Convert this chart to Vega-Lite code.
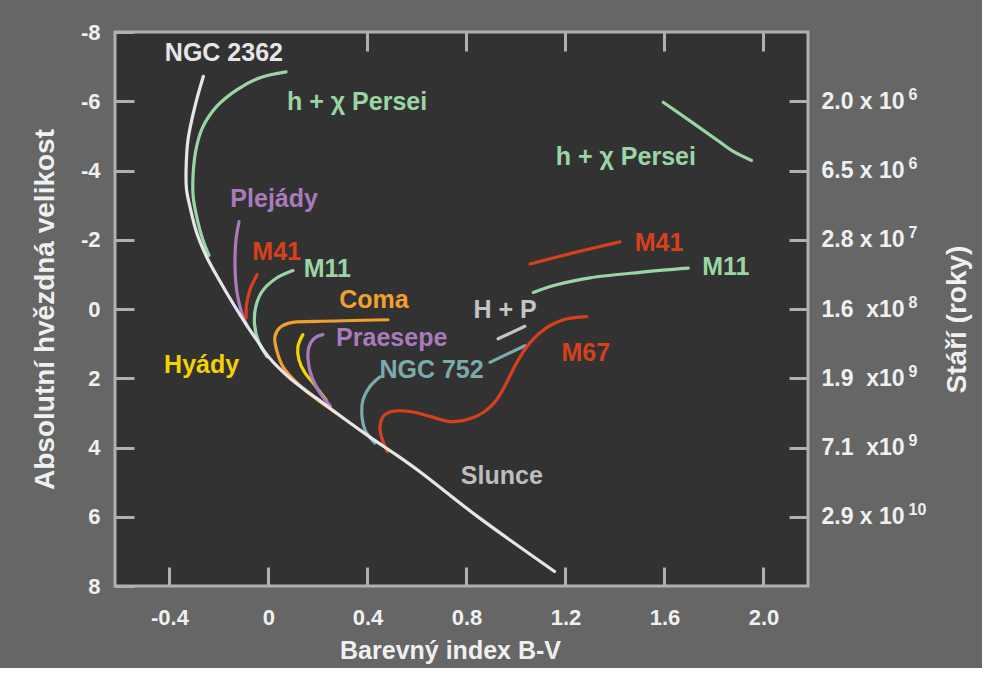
{
  "$schema": "https://vega.github.io/schema/vega-lite/v6.json",
  "width": 693,
  "height": 554,
  "autosize": {"type": "none"},
  "padding": {"left": 115, "top": 32, "right": 174, "bottom": 82},
  "background": "#666666",
  "config": {
    "view": {"fill": "#323232", "stroke": "#b0b0b0", "strokeWidth": 3},
    "font": "Liberation Sans",
    "axis": {
      "domain": false,
      "grid": false,
      "offset": 0,
      "tickColor": "#b0b0b0",
      "tickWidth": 3,
      "tickSize": -19,
      "labelColor": "#f0f0f0",
      "labelFont": "Liberation Sans",
      "labelFontWeight": "bold",
      "labelFontSize": 22,
      "labelOverlap": false,
      "labelFlush": false,
      "titleColor": "#f0f0f0",
      "titleFont": "Liberation Sans",
      "titleFontWeight": "bold",
      "titleFontSize": 28
    }
  },
  "datasets": {
    "curves": [
      {"s": "NGC 2362", "c": "NGC 2362", "i": 1, "x": -0.263, "y": -6.72},
      {"s": "NGC 2362", "c": "NGC 2362", "i": 2, "x": -0.297, "y": -5.85},
      {"s": "NGC 2362", "c": "NGC 2362", "i": 3, "x": -0.325, "y": -4.89},
      {"s": "NGC 2362", "c": "NGC 2362", "i": 4, "x": -0.333, "y": -3.94},
      {"s": "NGC 2362", "c": "NGC 2362", "i": 5, "x": -0.331, "y": -3.45},
      {"s": "NGC 2362", "c": "NGC 2362", "i": 6, "x": -0.317, "y": -2.95},
      {"s": "NGC 2362", "c": "NGC 2362", "i": 7, "x": -0.29, "y": -2.2},
      {"s": "NGC 2362", "c": "NGC 2362", "i": 8, "x": -0.25, "y": -1.51},
      {"s": "NGC 2362", "c": "NGC 2362", "i": 9, "x": -0.2, "y": -0.85},
      {"s": "NGC 2362", "c": "NGC 2362", "i": 10, "x": -0.145, "y": -0.18},
      {"s": "NGC 2362", "c": "NGC 2362", "i": 11, "x": -0.085, "y": 0.5},
      {"s": "NGC 2362", "c": "NGC 2362", "i": 12, "x": -0.035, "y": 1.02},
      {"s": "ZAMS", "c": "ZAMS", "i": 1, "x": -0.035, "y": 1.02},
      {"s": "ZAMS", "c": "ZAMS", "i": 2, "x": 0.0, "y": 1.38},
      {"s": "ZAMS", "c": "ZAMS", "i": 3, "x": 0.087, "y": 2.0},
      {"s": "ZAMS", "c": "ZAMS", "i": 4, "x": 0.195, "y": 2.58},
      {"s": "ZAMS", "c": "ZAMS", "i": 5, "x": 0.302, "y": 3.15},
      {"s": "ZAMS", "c": "ZAMS", "i": 6, "x": 0.41, "y": 3.7},
      {"s": "ZAMS", "c": "ZAMS", "i": 7, "x": 0.518, "y": 4.22},
      {"s": "ZAMS", "c": "ZAMS", "i": 8, "x": 0.612, "y": 4.7},
      {"s": "ZAMS", "c": "ZAMS", "i": 9, "x": 0.844, "y": 5.99},
      {"s": "ZAMS", "c": "ZAMS", "i": 10, "x": 1.156, "y": 7.58},
      {"s": "hxP1", "c": "h + χ Persei", "i": 1, "x": 0.071, "y": -6.85},
      {"s": "hxP1", "c": "h + χ Persei", "i": 2, "x": -0.034, "y": -6.68},
      {"s": "hxP1", "c": "h + χ Persei", "i": 3, "x": -0.128, "y": -6.33},
      {"s": "hxP1", "c": "h + χ Persei", "i": 4, "x": -0.209, "y": -5.85},
      {"s": "hxP1", "c": "h + χ Persei", "i": 5, "x": -0.265, "y": -5.26},
      {"s": "hxP1", "c": "h + χ Persei", "i": 6, "x": -0.29, "y": -4.7},
      {"s": "hxP1", "c": "h + χ Persei", "i": 7, "x": -0.304, "y": -3.94},
      {"s": "hxP1", "c": "h + χ Persei", "i": 8, "x": -0.304, "y": -3.24},
      {"s": "hxP1", "c": "h + χ Persei", "i": 9, "x": -0.29, "y": -2.67},
      {"s": "hxP1", "c": "h + χ Persei", "i": 10, "x": -0.265, "y": -2.0},
      {"s": "hxP1", "c": "h + χ Persei", "i": 11, "x": -0.24, "y": -1.55},
      {"s": "hxP2", "c": "h + χ Persei", "i": 1, "x": 1.595, "y": -5.97},
      {"s": "hxP2", "c": "h + χ Persei", "i": 2, "x": 1.716, "y": -5.37},
      {"s": "hxP2", "c": "h + χ Persei", "i": 3, "x": 1.811, "y": -4.89},
      {"s": "hxP2", "c": "h + χ Persei", "i": 4, "x": 1.878, "y": -4.55},
      {"s": "hxP2", "c": "h + χ Persei", "i": 5, "x": 1.952, "y": -4.29},
      {"s": "Plejady", "c": "Plejády", "i": 1, "x": -0.119, "y": -2.52},
      {"s": "Plejady", "c": "Plejády", "i": 2, "x": -0.131, "y": -2.0},
      {"s": "Plejady", "c": "Plejády", "i": 3, "x": -0.135, "y": -1.22},
      {"s": "Plejady", "c": "Plejády", "i": 4, "x": -0.127, "y": -0.47},
      {"s": "Plejady", "c": "Plejády", "i": 5, "x": -0.108, "y": 0.11},
      {"s": "Plejady", "c": "Plejády", "i": 6, "x": -0.085, "y": 0.5},
      {"s": "M41a", "c": "M41", "i": 1, "x": -0.046, "y": -0.99},
      {"s": "M41a", "c": "M41", "i": 2, "x": -0.075, "y": -0.55},
      {"s": "M41a", "c": "M41", "i": 3, "x": -0.089, "y": -0.1},
      {"s": "M41a", "c": "M41", "i": 4, "x": -0.09, "y": 0.25},
      {"s": "M41b", "c": "M41", "i": 1, "x": 1.057, "y": -1.3},
      {"s": "M41b", "c": "M41", "i": 2, "x": 1.232, "y": -1.62},
      {"s": "M41b", "c": "M41", "i": 3, "x": 1.42, "y": -1.94},
      {"s": "M11a", "c": "M11", "i": 1, "x": 0.099, "y": -1.11},
      {"s": "M11a", "c": "M11", "i": 2, "x": 0.03, "y": -0.88},
      {"s": "M11a", "c": "M11", "i": 3, "x": -0.026, "y": -0.5},
      {"s": "M11a", "c": "M11", "i": 4, "x": -0.052, "y": -0.04},
      {"s": "M11a", "c": "M11", "i": 5, "x": -0.056, "y": 0.45},
      {"s": "M11a", "c": "M11", "i": 6, "x": -0.04, "y": 0.94},
      {"s": "M11a", "c": "M11", "i": 7, "x": -0.005, "y": 1.38},
      {"s": "M11b", "c": "M11", "i": 1, "x": 1.07, "y": -0.48},
      {"s": "M11b", "c": "M11", "i": 2, "x": 1.164, "y": -0.7},
      {"s": "M11b", "c": "M11", "i": 3, "x": 1.299, "y": -0.9},
      {"s": "M11b", "c": "M11", "i": 4, "x": 1.501, "y": -1.06},
      {"s": "M11b", "c": "M11", "i": 5, "x": 1.696, "y": -1.18},
      {"s": "Coma", "c": "Coma", "i": 1, "x": 0.483, "y": 0.31},
      {"s": "Coma", "c": "Coma", "i": 2, "x": 0.195, "y": 0.36},
      {"s": "Coma", "c": "Coma", "i": 3, "x": 0.087, "y": 0.4},
      {"s": "Coma", "c": "Coma", "i": 4, "x": 0.046, "y": 0.54},
      {"s": "Coma", "c": "Coma", "i": 5, "x": 0.026, "y": 0.8},
      {"s": "Coma", "c": "Coma", "i": 6, "x": 0.033, "y": 1.18},
      {"s": "Coma", "c": "Coma", "i": 7, "x": 0.059, "y": 1.67},
      {"s": "Coma", "c": "Coma", "i": 8, "x": 0.114, "y": 2.13},
      {"s": "Coma", "c": "Coma", "i": 9, "x": 0.18, "y": 2.53},
      {"s": "Coma", "c": "Coma", "i": 10, "x": 0.273, "y": 3.0},
      {"s": "Hyady", "c": "Hyády", "i": 1, "x": 0.139, "y": 0.74},
      {"s": "Hyady", "c": "Hyády", "i": 2, "x": 0.119, "y": 1.09},
      {"s": "Hyady", "c": "Hyády", "i": 3, "x": 0.123, "y": 1.46},
      {"s": "Hyady", "c": "Hyády", "i": 4, "x": 0.147, "y": 1.84},
      {"s": "Hyady", "c": "Hyády", "i": 5, "x": 0.18, "y": 2.13},
      {"s": "Hyady", "c": "Hyády", "i": 6, "x": 0.235, "y": 2.65},
      {"s": "Praesepe", "c": "Praesepe", "i": 1, "x": 0.22, "y": 0.74},
      {"s": "Praesepe", "c": "Praesepe", "i": 2, "x": 0.188, "y": 0.83},
      {"s": "Praesepe", "c": "Praesepe", "i": 3, "x": 0.164, "y": 1.09},
      {"s": "Praesepe", "c": "Praesepe", "i": 4, "x": 0.16, "y": 1.46},
      {"s": "Praesepe", "c": "Praesepe", "i": 5, "x": 0.175, "y": 1.96},
      {"s": "Praesepe", "c": "Praesepe", "i": 6, "x": 0.208, "y": 2.42},
      {"s": "Praesepe", "c": "Praesepe", "i": 7, "x": 0.25, "y": 2.8},
      {"s": "NGC752a", "c": "NGC 752", "i": 1, "x": 0.451, "y": 1.96},
      {"s": "NGC752a", "c": "NGC 752", "i": 2, "x": 0.41, "y": 2.24},
      {"s": "NGC752a", "c": "NGC 752", "i": 3, "x": 0.382, "y": 2.62},
      {"s": "NGC752a", "c": "NGC 752", "i": 4, "x": 0.377, "y": 3.0},
      {"s": "NGC752a", "c": "NGC 752", "i": 5, "x": 0.39, "y": 3.49},
      {"s": "NGC752a", "c": "NGC 752", "i": 6, "x": 0.417, "y": 3.77},
      {"s": "NGC752a", "c": "NGC 752", "i": 7, "x": 0.43, "y": 3.87},
      {"s": "NGC752b", "c": "NGC 752", "i": 1, "x": 0.895, "y": 1.54},
      {"s": "NGC752b", "c": "NGC 752", "i": 2, "x": 1.036, "y": 1.06},
      {"s": "HP", "c": "H + P", "i": 1, "x": 0.928, "y": 0.86},
      {"s": "HP", "c": "H + P", "i": 2, "x": 1.036, "y": 0.5},
      {"s": "M67", "c": "M67", "i": 1, "x": 0.48, "y": 4.12},
      {"s": "M67", "c": "M67", "i": 2, "x": 0.451, "y": 3.49},
      {"s": "M67", "c": "M67", "i": 3, "x": 0.464, "y": 3.1},
      {"s": "M67", "c": "M67", "i": 4, "x": 0.498, "y": 2.96},
      {"s": "M67", "c": "M67", "i": 5, "x": 0.572, "y": 2.96},
      {"s": "M67", "c": "M67", "i": 6, "x": 0.653, "y": 3.1},
      {"s": "M67", "c": "M67", "i": 7, "x": 0.733, "y": 3.25},
      {"s": "M67", "c": "M67", "i": 8, "x": 0.801, "y": 3.2},
      {"s": "M67", "c": "M67", "i": 9, "x": 0.868, "y": 2.99},
      {"s": "M67", "c": "M67", "i": 10, "x": 0.922, "y": 2.62},
      {"s": "M67", "c": "M67", "i": 11, "x": 0.962, "y": 2.13},
      {"s": "M67", "c": "M67", "i": 12, "x": 1.003, "y": 1.55},
      {"s": "M67", "c": "M67", "i": 13, "x": 1.057, "y": 0.97},
      {"s": "M67", "c": "M67", "i": 14, "x": 1.124, "y": 0.54},
      {"s": "M67", "c": "M67", "i": 15, "x": 1.191, "y": 0.31},
      {"s": "M67", "c": "M67", "i": 16, "x": 1.286, "y": 0.22}
    ],
    "labels": [
      {"t": "NGC 2362", "c": "NGC 2362", "x": -0.18, "y": -7.38},
      {"t": "h + χ Persei", "c": "h + χ Persei", "x": 0.358, "y": -5.99},
      {"t": "h + χ Persei", "c": "h + χ Persei", "x": 1.444, "y": -4.38},
      {"t": "Plejády", "c": "Plejády", "x": 0.023, "y": -3.18},
      {"t": "M41", "c": "M41", "x": 0.033, "y": -1.64},
      {"t": "M11", "c": "M11", "x": 0.238, "y": -1.16},
      {"t": "Coma", "c": "Coma", "x": 0.426, "y": -0.27},
      {"t": "Praesepe", "c": "Praesepe", "x": 0.498, "y": 0.83},
      {"t": "Hyády", "c": "Hyády", "x": -0.27, "y": 1.61},
      {"t": "NGC 752", "c": "NGC 752", "x": 0.659, "y": 1.75},
      {"t": "H + P", "c": "H + P", "x": 0.956, "y": 0.04},
      {"t": "M67", "c": "M67", "x": 1.282, "y": 1.27},
      {"t": "M41", "c": "M41", "x": 1.578, "y": -1.91},
      {"t": "M11", "c": "M11", "x": 1.848, "y": -1.21},
      {"t": "Slunce", "c": "Slunce", "x": 0.943, "y": 4.81}
    ]
  },
  "layer": [
    {
      "data": {"name": "curves"},
      "transform": [{"filter": "datum.c != 'ZAMS' && datum.c != 'NGC 2362'"}],
      "mark": {"type": "line", "strokeWidth": 3.2, "interpolate": "catmull-rom", "strokeCap": "round"},
      "encoding": {
        "x": {
          "field": "x",
          "type": "quantitative",
          "scale": {"domain": [-0.62, 2.18], "nice": false, "zero": false},
          "axis": {
            "orient": "bottom",
            "values": [-0.4, 0, 0.4, 0.8, 1.2, 1.6, 2.0],
            "format": ".1f",
            "labelExpr": "datum.value == 0 ? '0' : replace(datum.label, '−', '-')",
            "labelPadding": 40,
            "title": "Barevný index B-V",
            "titleFontSize": 25,
            "titleX": 335,
            "titleY": 64,
            "titleBaseline": "middle",
            "titleAlign": "center"
          }
        },
        "y": {
          "field": "y",
          "type": "quantitative",
          "scale": {"domain": [-8, 8], "reverse": true, "nice": false, "zero": false},
          "axis": {
            "orient": "left",
            "values": [-8, -6, -4, -2, 0, 2, 4, 6, 8],
            "format": "d",
            "labelExpr": "replace(datum.label, '−', '-')",
            "labelPadding": 34,
            "title": "Absolutní hvězdná velikost",
            "titleX": -70,
            "titleBaseline": "middle",
            "titleAngle": -90
          }
        },
        "detail": {"field": "s", "type": "nominal"},
        "order": {"field": "i", "type": "quantitative"},
        "color": {
          "field": "c",
          "type": "nominal",
          "scale": {
            "domain": ["ZAMS", "NGC 2362", "h + χ Persei", "Plejády", "M41", "M11", "Coma", "Hyády", "Praesepe", "NGC 752", "H + P", "M67", "Slunce"],
            "range": ["#e6e6ea", "#e6e6ea", "#9ad6a4", "#a97bbd", "#d8401c", "#9ad6a4", "#f0a030", "#f2d400", "#a97bbd", "#7aacac", "#c4c4c4", "#d8401c", "#bdbdbd"]
          },
          "legend": null
        }
      }
    },
    {
      "data": {"name": "labels"},
      "mark": {"type": "text", "fontSize": 25, "fontWeight": "bold", "font": "Liberation Sans", "align": "center", "baseline": "middle"},
      "encoding": {
        "x": {
          "field": "x",
          "type": "quantitative",
          "scale": {"domain": [-0.62, 2.18], "nice": false, "zero": false},
          "axis": {"orient": "top", "values": [0.4, 0.8, 1.2, 1.6, 2.0], "labels": false, "title": null}
        },
        "y": {
          "field": "y",
          "type": "quantitative",
          "scale": {"domain": [-8, 8], "reverse": true, "nice": false, "zero": false},
          "axis": {
            "orient": "right",
            "values": [-6, -4, -2, 0, 2, 4, 6],
            "labelExpr": "datum.value == -6 ? '2.0 x 10' : datum.value == -4 ? '6.5 x 10' : datum.value == -2 ? '2.8 x 10' : datum.value == 0 ? '1.6\u00a0 x10' : datum.value == 2 ? '1.9\u00a0 x10' : datum.value == 4 ? '7.1\u00a0 x10' : '2.9 x 10'",
            "labelAlign": "left",
            "labelFontSize": 23,
            "labelPadding": 32,
            "title": "Stáří (roky)",
            "titleX": 149,
            "titleY": 287,
            "titleAngle": -90,
            "titleBaseline": "middle",
            "titleAlign": "center"
          }
        },
        "text": {"field": "t", "type": "nominal"},
        "color": {"field": "c", "type": "nominal", "legend": null}
      }
    },
    {
      "data": {"name": "curves"},
      "transform": [{"filter": "datum.c == 'ZAMS' || datum.c == 'NGC 2362'"}],
      "mark": {"type": "line", "strokeWidth": 3.2, "interpolate": "catmull-rom", "strokeCap": "round"},
      "encoding": {
        "x": {
          "field": "x",
          "type": "quantitative",
          "scale": {"domain": [-0.62, 2.18], "nice": false, "zero": false},
          "axis": null
        },
        "y": {
          "field": "y",
          "type": "quantitative",
          "scale": {"domain": [-8, 8], "reverse": true, "nice": false, "zero": false},
          "axis": {
            "orient": "right",
            "offset": 0,
            "values": [-6, -4, -2, 0, 2, 4, 6],
            "labelExpr": "datum.value == -6 ? '6' : datum.value == -4 ? '6' : datum.value == -2 ? '7' : datum.value == 0 ? '8' : datum.value == 2 ? '9' : datum.value == 4 ? '9' : '10'",
            "labelAlign": "left",
            "labelFontSize": 16,
            "labelOffset": -7,
            "labelPadding": 119,
            "tickOpacity": 0,
            "title": null
          }
        },
        "detail": {"field": "s", "type": "nominal"},
        "order": {"field": "i", "type": "quantitative"},
        "color": {"field": "c", "type": "nominal", "legend": null}
      }
    }
  ],
  "resolve": {"scale": {"x": "independent", "y": "independent"}}
}
